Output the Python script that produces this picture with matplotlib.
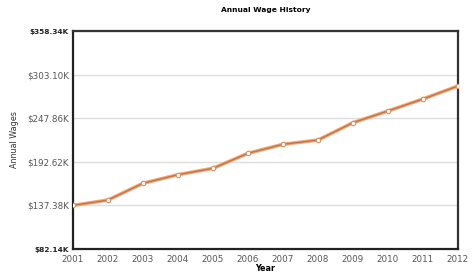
import matplotlib.pyplot as plt

# ---------------------------------------------------------------------------
# Data
# ---------------------------------------------------------------------------
years = [2001, 2002, 2003, 2004, 2005, 2006, 2007, 2008, 2009, 2010, 2011, 2012]
wages_k = [137.4, 144.2, 165.4, 176.3, 184.4, 203.4, 214.8, 220.2,
           242.2, 257.0, 272.2, 288.7]
y_ticks = [82.14, 137.38, 192.62, 247.86, 303.10, 358.34]

LINE_OUTER = '#eeaa80'
LINE_INNER = '#c9713f'
TICK_COLOR = '#555555'

fig = plt.figure(figsize=(4.77, 2.77), dpi=100)
ax = fig.add_axes([0.153, 0.101, 0.807, 0.787])

ax.plot(years, wages_k, color=LINE_OUTER, linewidth=2.6, solid_capstyle='round', zorder=3)
ax.plot(years, wages_k, color=LINE_INNER, linewidth=1.0, zorder=4,
        marker='o', markersize=3.2, markerfacecolor='white',
        markeredgecolor='#d8905f', markeredgewidth=0.8)

ax.set_xlim(years[0], years[-1])
ax.set_ylim(y_ticks[0], y_ticks[-1])
ax.set_xticks(years)
ax.set_yticks(y_ticks)
ax.set_xticklabels([str(y) for y in years])
ax.set_yticklabels([f'${v:.2f}K' for v in y_ticks])

ax.tick_params(axis='both', length=0, labelsize=6.3, labelcolor=TICK_COLOR, pad=3)
ax.tick_params(axis='x', pad=4)
for lbl in (ax.get_yticklabels()[0], ax.get_yticklabels()[-1]):
    lbl.set_fontweight('bold')
    lbl.set_fontsize(5.3)
    lbl.set_color('#222222')

ax.grid(True, axis='y', color='#dddddd', linewidth=1.0)
ax.set_axisbelow(True)
for side in ax.spines.values():
    side.set_linewidth(1.6)
    side.set_color('#333333')
ax.spines['left'].set_color('#222222')
ax.spines['bottom'].set_color('#222222')

ax.set_title('Annual Wage History', fontsize=5.4, fontweight='bold', pad=14)
ax.set_xlabel('Year', fontsize=5.8, fontweight='bold', labelpad=0)
ax.set_ylabel('Annual Wages', fontsize=5.8, color='#333333')
ax.yaxis.set_label_coords(-0.14, 0.5)

fig.savefig('out.png', dpi=100)
